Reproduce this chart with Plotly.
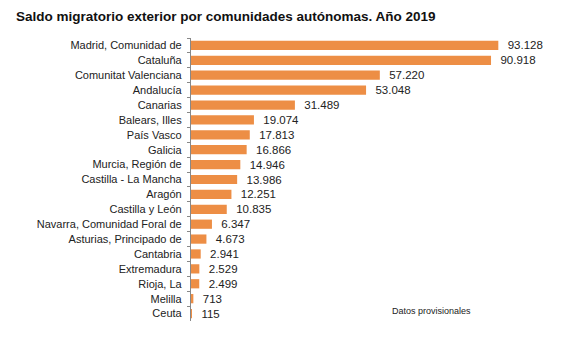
import plotly.graph_objects as go

categories = ["Madrid, Comunidad de", "Cataluña", "Comunitat Valenciana", "Andalucía",
              "Canarias", "Balears, Illes", "País Vasco", "Galicia", "Murcia, Región de",
              "Castilla - La Mancha", "Aragón", "Castilla y León", "Navarra, Comunidad Foral de",
              "Asturias, Principado de", "Cantabria", "Extremadura", "Rioja, La", "Melilla", "Ceuta"]
values = [93128, 90918, 57220, 53048, 31489, 19074, 17813, 16866, 14946,
          13986, 12251, 10835, 6347, 4673, 2941, 2529, 2499, 713, 115]

labels = [f"{v:,}".replace(",", ".") for v in values]

W, H = 580, 340
L, R, T, B = 191, 59, 38, 19
PW, PH = W - L - R, H - T - B

fig = go.Figure(go.Bar(
    x=values, y=categories, orientation="h",
    marker=dict(color="#ED8E45", line=dict(width=0)),
    width=0.62,
    text=labels, textposition="outside", cliponaxis=False, constraintext="none",
    texttemplate="  %{text}",
    textfont=dict(family="Liberation Sans, Arial", size=11.5, color="#222222"),
))

fig.update_layout(
    width=W, height=H,
    margin=dict(l=L, r=R, t=T, b=B),
    paper_bgcolor="white", plot_bgcolor="white",
    showlegend=False,
    font=dict(family="Liberation Sans, Arial", size=11, color="#222222"),
    title=dict(text="<b>Saldo migratorio exterior por comunidades autónomas. Año 2019</b>",
               xref="container", x=16 / W, xanchor="left",
               yref="container", y=1 - 16 / H, yanchor="middle",
               font=dict(family="Liberation Sans, Arial", size=13.5, color="#111111")),
    xaxis=dict(range=[0, 100000], visible=False, fixedrange=True),
    yaxis=dict(autorange="reversed", showline=True, linecolor="#888888", linewidth=1,
               ticks="outside", tickson="boundaries", ticklen=3, tickcolor="#888888",
               ticksuffix="  ", showgrid=False, tickfont=dict(size=11, color="#222222")),
)
fig.add_annotation(text="Datos provisionales", xref="paper", yref="paper",
                   x=(390 - L) / PW, y=(H - B - 311) / PH,
                   xanchor="left", yanchor="middle", showarrow=False,
                   font=dict(size=9, color="#222222"))

fig.write_html("out.html")
